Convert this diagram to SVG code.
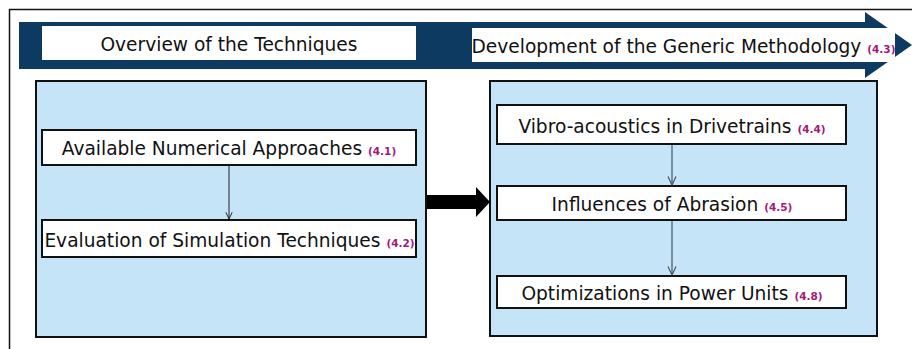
<svg xmlns="http://www.w3.org/2000/svg" width="912" height="349" viewBox="0 0 912 349">
<defs>
<style>
.panel{fill:#C6E4F8;stroke:#111;stroke-width:2}
.box{fill:#fff;stroke:#111;stroke-width:2}
.hbox{fill:#fff;stroke:none}
.t{font-family:"DejaVu Sans",Verdana,sans-serif;font-size:18.6px;fill:#111;text-anchor:middle}
.n{font-family:"DejaVu Sans",Verdana,sans-serif;font-size:10.5px;font-weight:bold;fill:#A3197A}
.c1{stroke:#222;stroke-width:1;fill:none}
.c2{stroke:#4a5560;stroke-width:1.2;fill:none}
</style>
<marker id="v1" viewBox="0 0 10 10" refX="9.5" refY="5" markerWidth="8" markerHeight="8" markerUnits="userSpaceOnUse" orient="auto"><path d="M1,1 L9.5,5 L1,9" fill="none" stroke="#222" stroke-width="1.2"/></marker>
<marker id="v2" viewBox="0 0 10 10" refX="9.5" refY="5" markerWidth="10" markerHeight="10" markerUnits="userSpaceOnUse" orient="auto"><path d="M1,1 L9.5,5 L1,9" fill="none" stroke="#4a5560" stroke-width="1.2"/></marker>
</defs>
<rect width="912" height="349" fill="#fff"/>
<path d="M9.5,349 V9.5 H912" fill="none" stroke="#111" stroke-width="1.5"/>
<g id="banner">
<polygon points="19,22 865,22 865,12 912,45 865,78 865,69 19,69" fill="#0C3A60"/>
</g>
<g id="overview">
<rect class="hbox" x="42" y="26" width="374" height="34"/>
<text class="t" x="229" y="51">Overview of the Techniques</text>
</g>
<g id="development">
<rect class="hbox" x="472" y="28" width="423" height="34"/>
<text class="t" x="683.5" y="53">Development of the Generic Methodology <tspan class="n">(4.3)</tspan></text>
</g>
<g id="left-panel">
<rect class="panel" x="36" y="81" width="390" height="256"/>
</g>
<g id="right-panel">
<rect class="panel" x="490" y="81" width="387" height="255"/>
</g>
<g id="available">
<rect class="box" x="42" y="130" width="374" height="35"/>
<text class="t" x="229" y="155">Available Numerical Approaches <tspan class="n">(4.1)</tspan></text>
</g>
<g id="evaluation">
<rect class="box" x="42" y="220" width="374" height="37"/>
<text class="t" x="229.5" y="247">Evaluation of Simulation Techniques <tspan class="n">(4.2)</tspan></text>
</g>
<g id="vibro">
<rect class="box" x="497" y="105" width="349" height="39"/>
<text class="t" x="672" y="133">Vibro-acoustics in Drivetrains <tspan class="n">(4.4)</tspan></text>
</g>
<g id="influences">
<rect class="box" x="497" y="186" width="349" height="34"/>
<text class="t" x="672" y="211">Influences of Abrasion <tspan class="n">(4.5)</tspan></text>
</g>
<g id="optimizations">
<rect class="box" x="497" y="276" width="349" height="32"/>
<text class="t" x="672" y="300">Optimizations in Power Units <tspan class="n">(4.8)</tspan></text>
</g>
<g id="connectors">
<line class="c1" x1="229" y1="165" x2="229" y2="219" marker-end="url(#v1)"/>
<line class="c2" x1="672" y1="145" x2="672" y2="185" marker-end="url(#v2)"/>
<line class="c2" x1="672" y1="221" x2="672" y2="275" marker-end="url(#v2)"/>
<polygon points="427,195 476,195 476,187 490,202 476,217 476,209 427,209" fill="#000"/>
</g>
</svg>
